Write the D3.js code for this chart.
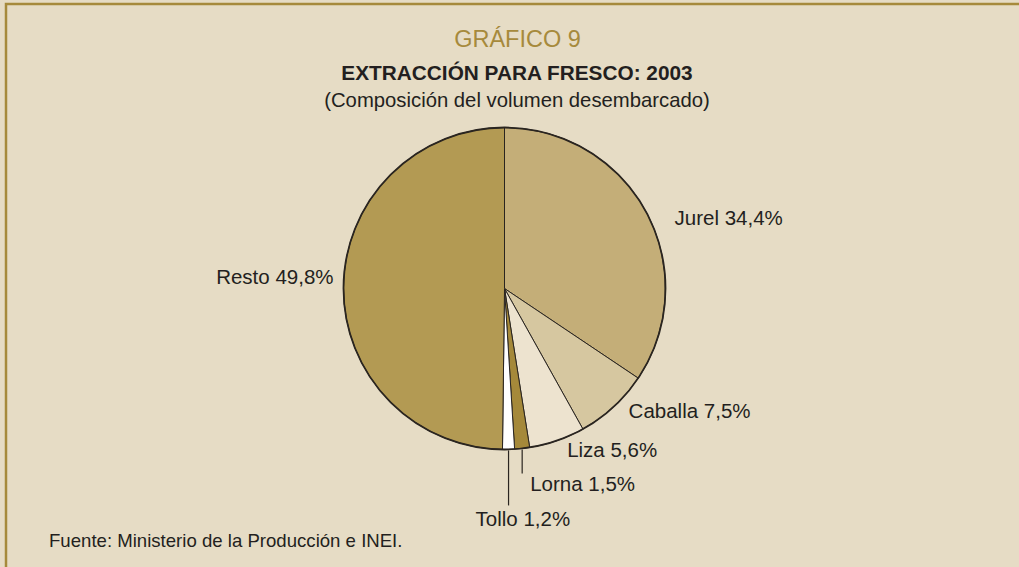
<!DOCTYPE html>
<html>
<head>
<meta charset="utf-8">
<script src="https://cdn.jsdelivr.net/npm/d3@7"></script>
<style>
  html, body { margin: 0; padding: 0; background: #e6dcc5; overflow: hidden; }
  svg { display: block; font-family: "Liberation Sans", Arial, sans-serif; }
</style>
</head>
<body>
<svg id="chart" width="1019" height="567"></svg>
<script>
// datos del gráfico
const categories = ['Jurel', 'Caballa', 'Liza', 'Lorna', 'Tollo', 'Resto']
const values = [34.4, 7.5, 5.6, 1.5, 1.2, 49.8]
const sliceColors = ['#c4ae78', '#d6c7a0', '#ede3cf', '#a5893a', '#ffffff', '#b39a53']

// ajustes de etiquetas (desde el borde del sector)
const labelNudge = [[28, 12], [15, 11], [10, 16.5], [8, 42], [-33, 77], [-10, -3.5]]
const leaderLength = [0, 0, 0, 25, 56, 0]

const width = 1019
const height = 567
const cx = 504.5
const cy = 288.5
const radius = 161

const fmt = v => v.toFixed(1).replace('.', ',') + '%'

const svg = d3.select('#chart')

svg.append('rect')
  .attr('x', 0).attr('y', 0)
  .attr('width', width).attr('height', height)
  .attr('fill', '#e6dcc5')

// marco (solo se ven los bordes superior e izquierdo)
svg.append('path')
  .attr('d', `M6,${height} V4 H${width}`)
  .attr('fill', 'none')
  .attr('stroke', '#a68a3c')
  .attr('stroke-width', 2.5)

// títulos
svg.append('text')
  .attr('x', 517.5).attr('y', 46.5)
  .attr('text-anchor', 'middle')
  .style('font-size', '23.5px')
  .style('fill', '#a68a3c')
  .text('GRÁFICO 9')

svg.append('text')
  .attr('x', 517).attr('y', 80)
  .attr('text-anchor', 'middle')
  .style('font-size', '20.8px')
  .style('font-weight', 'bold')
  .style('fill', '#231f20')
  .text('EXTRACCIÓN PARA FRESCO: 2003')

svg.append('text')
  .attr('x', 517).attr('y', 107)
  .attr('text-anchor', 'middle')
  .style('font-size', '20.3px')
  .style('fill', '#231f20')
  .text('(Composición del volumen desembarcado)')

svg.append('text')
  .attr('x', 49).attr('y', 546.5)
  .style('font-size', '18.6px')
  .style('fill', '#231f20')
  .text('Fuente: Ministerio de la Producción e INEI.')

// torta
const pie = d3.pie().sort(null).value(d => d.value)
const arc = d3.arc().innerRadius(0).outerRadius(radius)
const data = categories.map((c, i) => ({ name: c, value: values[i], i }))
const arcs = pie(data)

const g = svg.append('g').attr('transform', `translate(${cx},${cy})`)

g.selectAll('path.slice')
  .data(arcs)
  .enter().append('path')
  .attr('class', 'slice')
  .attr('d', arc)
  .attr('fill', d => sliceColors[d.data.i])
  .attr('stroke', '#2a2520')
  .attr('stroke-width', 1)
  .attr('stroke-linejoin', 'round')

g.append('circle')
  .attr('r', radius)
  .attr('fill', 'none')
  .attr('stroke', '#2a2520')
  .attr('stroke-width', 1.8)

const edgePoint = d => {
  const a = (d.startAngle + d.endAngle) / 2
  return [radius * Math.sin(a), -radius * Math.cos(a)]
}

// líneas guía
g.selectAll('line.leader')
  .data(arcs.filter(d => leaderLength[d.data.i] > 0))
  .enter().append('line')
  .attr('class', 'leader')
  .attr('x1', d => edgePoint(d)[0])
  .attr('y1', d => edgePoint(d)[1] + 1)
  .attr('x2', d => edgePoint(d)[0])
  .attr('y2', d => edgePoint(d)[1] + leaderLength[d.data.i])
  .attr('stroke', '#2a2520')
  .attr('stroke-width', 1.2)

// etiquetas
g.selectAll('text.label')
  .data(arcs)
  .enter().append('text')
  .attr('class', 'label')
  .attr('x', d => edgePoint(d)[0] + labelNudge[d.data.i][0])
  .attr('y', d => edgePoint(d)[1] + labelNudge[d.data.i][1])
  .attr('text-anchor', d => edgePoint(d)[0] < -100 ? 'end' : 'start')
  .style('font-size', '20.5px')
  .style('fill', '#231f20')
  .text(d => `${d.data.name} ${fmt(d.data.value)}`)
</script>
</body>
</html>
